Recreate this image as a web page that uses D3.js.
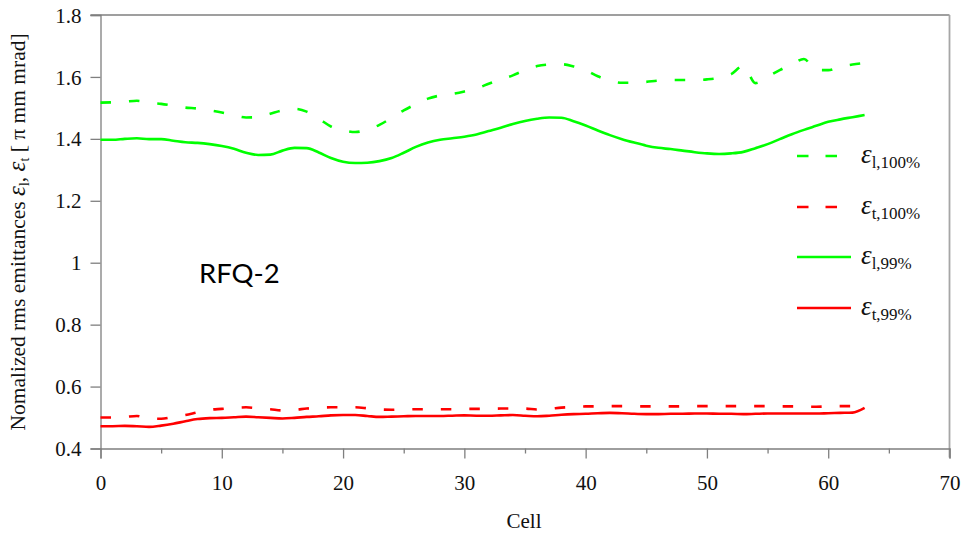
<!DOCTYPE html>
<html><head><meta charset="utf-8">
<script src="https://cdn.jsdelivr.net/npm/d3@7/dist/d3.min.js"></script>
<style>
html,body{margin:0;padding:0;background:#fff;}
svg{display:block;}
</style></head>
<body>
<svg id="chart" width="968" height="537"></svg>
<script>
// ---- data ----
const cells = d3.range(0, 64);
const eL100 = [1.517,1.518,1.520,1.523,1.517,1.513,1.507,1.501,1.498,1.492,1.485,1.476,1.469,1.470,1.481,1.492,1.497,1.488,1.465,1.440,1.428,1.422,1.430,1.445,1.468,1.492,1.512,1.530,1.540,1.545,1.553,1.563,1.578,1.592,1.605,1.622,1.635,1.640,1.641,1.634,1.622,1.602,1.588,1.581,1.581,1.584,1.588,1.590,1.590,1.590,1.592,1.597,1.609,1.636,1.580,1.600,1.622,1.640,1.658,1.622,1.622,1.633,1.640,1.645];
const eT100 = [0.500,0.500,0.502,0.505,0.496,0.496,0.502,0.508,0.517,0.525,0.528,0.531,0.533,0.530,0.527,0.523,0.525,0.529,0.532,0.533,0.533,0.533,0.530,0.526,0.525,0.526,0.527,0.527,0.527,0.527,0.528,0.528,0.528,0.529,0.529,0.529,0.526,0.528,0.532,0.534,0.536,0.536,0.537,0.537,0.536,0.536,0.536,0.536,0.536,0.537,0.537,0.537,0.537,0.537,0.537,0.537,0.536,0.536,0.535,0.535,0.536,0.537,0.537,0.537];
const eL99 = [1.397,1.397,1.400,1.402,1.399,1.399,1.394,1.389,1.387,1.383,1.377,1.368,1.355,1.348,1.349,1.362,1.371,1.370,1.356,1.338,1.326,1.322,1.323,1.328,1.338,1.355,1.374,1.388,1.397,1.402,1.407,1.414,1.425,1.436,1.448,1.458,1.465,1.469,1.468,1.457,1.443,1.427,1.412,1.399,1.388,1.378,1.371,1.367,1.362,1.357,1.353,1.351,1.353,1.358,1.370,1.383,1.399,1.415,1.429,1.442,1.455,1.463,1.470,1.477];
const eT99 = [0.472,0.472,0.473,0.472,0.470,0.474,0.480,0.488,0.495,0.498,0.499,0.501,0.503,0.501,0.499,0.497,0.499,0.502,0.504,0.507,0.508,0.508,0.505,0.502,0.503,0.504,0.505,0.505,0.505,0.506,0.507,0.506,0.506,0.507,0.508,0.506,0.504,0.506,0.509,0.511,0.512,0.514,0.515,0.514,0.512,0.511,0.511,0.512,0.512,0.513,0.513,0.512,0.512,0.511,0.512,0.513,0.513,0.513,0.513,0.513,0.514,0.515,0.516,0.531];
const xTicks = [0,10,20,30,40,50,60,70];
const xMinorTicks = [5,15,25,35,45,55,65];
const yTicks = [0.4,0.6,0.8,1.0,1.2,1.4,1.6,1.8];
const yTickLabels = ["0.4","0.6","0.8","1","1.2","1.4","1.6","1.8"];
const seriesList = [
  {name:"eL100", values:eL100, color:"#00ff00", dashed:true,  sub:"l,100%"},
  {name:"eT100", values:eT100, color:"#ff0000", dashed:true,  sub:"t,100%"},
  {name:"eL99",  values:eL99,  color:"#00ff00", dashed:false, sub:"l,99%"},
  {name:"eT99",  values:eT99,  color:"#ff0000", dashed:false, sub:"t,99%"}
];

// ---- layout ----
const L = 100.5, R = 949.5, T = 15, B = 448.5;
const x = d3.scaleLinear().domain([0,70]).range([L,R]);
const y = d3.scaleLinear().domain([0.4,1.8]).range([B,T]);
const svg = d3.select("#chart");
const serif = "'Liberation Serif','Times New Roman',serif";
const axisColor = "#7f7f7f";

// frame top & right
svg.append("line").attr("x1",L-10).attr("x2",R).attr("y1",T).attr("y2",T)
  .attr("stroke",axisColor).attr("stroke-width",1.3);
svg.append("line").attr("x1",R).attr("x2",R).attr("y1",T).attr("y2",B+9)
  .attr("stroke","#a6a6a6").attr("stroke-width",1.8);

// x axis
const xAxis = d3.axisBottom(x).tickValues(xTicks).tickSize(10).tickFormat(d3.format("d"));
const gx = svg.append("g").attr("transform",`translate(0,${B})`).call(xAxis);
gx.select(".domain").attr("stroke",axisColor).attr("stroke-width",1.3);
gx.selectAll(".tick line").attr("stroke",axisColor).attr("stroke-width",1.3);
gx.selectAll(".tick text").attr("font-family",serif).attr("font-size",21).attr("fill","#111").attr("dy",0).attr("y",41);
const xMinor = d3.axisBottom(x).tickValues(xMinorTicks).tickSize(5).tickFormat("");
const gxm = svg.append("g").attr("transform",`translate(0,${B})`).call(xMinor);
gxm.select(".domain").remove();
gxm.selectAll(".tick line").attr("stroke",axisColor).attr("stroke-width",1.3);

// y axis
const yAxis = d3.axisLeft(y).tickValues(yTicks).tickSize(10).tickFormat((d,i)=>yTickLabels[i]);
const gy = svg.append("g").attr("transform",`translate(${L},0)`).call(yAxis);
gy.select(".domain").attr("stroke",axisColor).attr("stroke-width",1.3);
gy.selectAll(".tick line").attr("stroke",axisColor).attr("stroke-width",1.3);
gy.selectAll(".tick text").attr("font-family",serif).attr("font-size",21).attr("fill","#111").attr("x",-19).attr("dy","0.34em");

// axis titles
svg.append("text").attr("x",524).attr("y",528).attr("text-anchor","middle")
  .attr("font-family",serif).attr("font-size",21).attr("fill","#111").text("Cell");

const yl = svg.append("text").attr("transform","translate(25,232) rotate(-90)")
  .attr("text-anchor","middle").attr("font-family",serif).attr("font-size",21.5).attr("fill","#111");
yl.append("tspan").text("Nomalized rms emittances ");
yl.append("tspan").attr("font-style","italic").attr("font-size",25).text("ε");
yl.append("tspan").attr("font-size",14).attr("dy",4).text("l");
yl.append("tspan").attr("dy",-4).text(", ");
yl.append("tspan").attr("font-style","italic").attr("font-size",25).text("ε");
yl.append("tspan").attr("font-size",14).attr("dy",4).text("t");
yl.append("tspan").attr("dy",-4).text(" [ π mm mrad]");

// lines
const line = d3.line().x((d,i)=>x(cells[i])).y(d=>y(d)).curve(d3.curveMonotoneX);
seriesList.forEach(s=>{
  svg.append("path").datum(s.values).attr("d",line)
    .attr("fill","none").attr("stroke",s.color).attr("stroke-width",2.6)
    .attr("stroke-dasharray", s.dashed ? "10.5,18" : null);
});

// RFQ-2 label
svg.append("text").attr("x",199).attr("y",283)
  .attr("font-family","Lato,'Open Sans',sans-serif").attr("font-size",27.5).attr("fill","#000").text("RFQ-2");

// legend
const legY = [156, 207, 257, 308];
seriesList.forEach((s,i)=>{
  const g = svg.append("g");
  g.append("line").attr("x1",797).attr("x2",851).attr("y1",legY[i]).attr("y2",legY[i])
    .attr("stroke",s.color).attr("stroke-width",2.6)
    .attr("stroke-dasharray", s.dashed ? "11.5,17" : null);
  const t = g.append("text").attr("x",861).attr("y",legY[i]+7).attr("font-family",serif).attr("fill","#111");
  t.append("tspan").attr("font-style","italic").attr("font-size",27).text("ε");
  t.append("tspan").attr("font-size",17).attr("dy",5).text(s.sub);
});
</script>
</body></html>
